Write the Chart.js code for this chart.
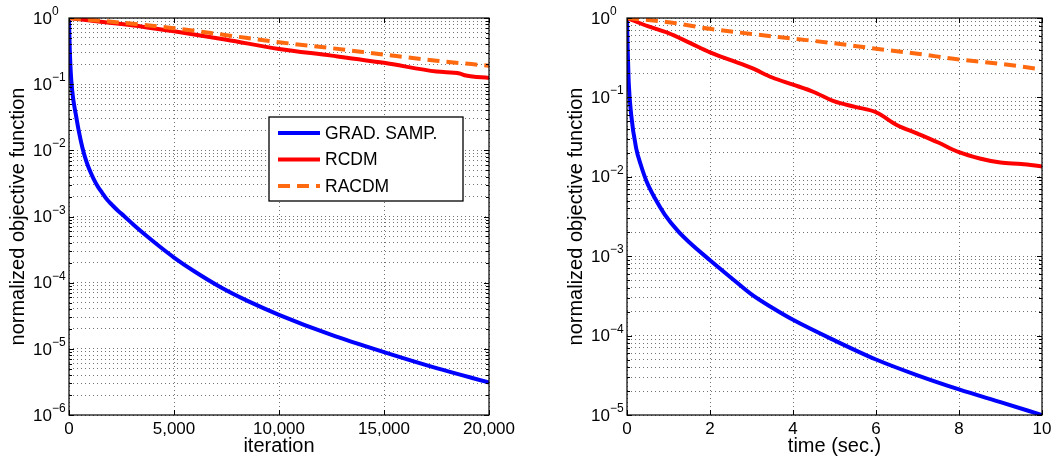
<!DOCTYPE html>
<html>
<head>
<meta charset="utf-8">
<title>normalized objective function</title>
<script src="https://cdn.jsdelivr.net/npm/chart.js@4.4.1/dist/chart.umd.min.js"></script>
<style>
  body { margin: 0; background: #fff; }
  #wrap { position: relative; width: 1057px; height: 458px; }
  canvas { position: absolute; top: 0; }
</style>
</head>
<body>
<div id="wrap">
  <canvas id="chart-iter" width="528" height="458" style="left:0"></canvas>
  <canvas id="chart-time" width="529" height="458" style="left:528px"></canvas>
</div>
<script>
// ---- DATA: left panel (x = iteration) ----
const iterGrad = [0, 15, 33, 63, 110, 190, 320, 460, 633, 762, 905, 1048, 1190, 1381, 1571, 1810, 2048, 2333, 2620, 3100, 3700, 4300, 5000, 6000, 7200, 8500, 10000, 12500, 15000, 17500, 20000];
const valGrad = [1, 0.6, 0.36, 0.204, 0.113, 0.063, 0.0355, 0.02, 0.0111, 0.0079, 0.0058, 0.0045, 0.0036, 0.0028, 0.0023, 0.0018, 0.0015, 0.00122, 0.00102, 7.36e-4, 5.06e-4, 3.55e-4, 2.4e-4, 1.46e-4, 8.6e-5, 5.3e-5, 3.27e-5, 1.62e-5, 8.9e-6, 5.1e-6, 3.1e-6];
const iterRcdm = [0, 1200, 2500, 3500, 5000, 7500, 10000, 12500, 15000, 17500, 18600, 18900, 20000];
const valRcdm = [1, 0.9, 0.81, 0.74, 0.63, 0.47, 0.34, 0.27, 0.21, 0.155, 0.145, 0.135, 0.124];
const iterRacdm = [0, 2500, 5000, 7500, 10000, 12500, 15000, 17500, 20000];
const valRacdm = [1, 0.85, 0.70, 0.55, 0.43, 0.35, 0.28, 0.226, 0.19];

// ---- DATA: right panel (x = time in sec.) ----
const timeGrad = [0, 0.015, 0.04, 0.1, 0.22, 0.33, 0.47, 0.67, 0.91, 1.23, 1.5, 2, 2.5, 3, 3.5, 4, 5, 6, 7, 8, 9, 10];
const valGradT = [1, 0.42, 0.16, 0.061, 0.023, 0.0143, 0.0088, 0.0054, 0.00335, 0.00207, 0.0015, 8.9e-4, 5.4e-4, 3.3e-4, 2.24e-4, 1.58e-4, 8.7e-5, 5.0e-5, 3.16e-5, 2.1e-5, 1.45e-5, 1e-5];
const timeRcdm = [0, 0.5, 1, 1.5, 2, 2.5, 3, 3.5, 4, 4.5, 5, 5.5, 6, 6.5, 7, 7.5, 8, 8.5, 9, 9.5, 10];
const valRcdmT = [1, 0.79, 0.645, 0.49, 0.37, 0.295, 0.235, 0.178, 0.145, 0.117, 0.089, 0.076, 0.065, 0.045, 0.035, 0.027, 0.0204, 0.017, 0.0151, 0.0145, 0.0135];
const timeRacdm = [0, 1, 2, 3, 4, 5, 6, 7, 8, 9, 10];
const valRacdmT = [1, 0.885, 0.73, 0.63, 0.55, 0.48, 0.41, 0.355, 0.30, 0.265, 0.225];

// ---- labels / ticks ----
const seriesLabels = ["GRAD. SAMP.", "RCDM", "RACDM"];
const xTicksIter = [0, 5000, 10000, 15000, 20000];
const xTicksTime = [0, 2, 4, 6, 8, 10];
const yDecadesIter = [1e-6, 1e-5, 1e-4, 1e-3, 1e-2, 1e-1, 1];
const yDecadesTime = [1e-5, 1e-4, 1e-3, 1e-2, 1e-1, 1];

// ---- style ----
const FONT = "'Liberation Sans', Arial, Helvetica, sans-serif";
const COLORS = ["#0000ff", "#ff0000", "#ff6a10"];
const GRID_COLOR = "rgba(0,0,0,0.55)";

function toPoints(xs, ys) {
    return xs.map((x, i) => ({ x: x, y: ys[i] }));
}

// decades + 2..9 minor grid values
function withMinors(decades) {
    const out = [];
    decades.forEach((d, i) => {
        out.push({ value: d, major: true });
        if (i < decades.length - 1) {
            for (let k = 2; k <= 9; k++) out.push({ value: k * d, major: false });
        }
    });
    return out;
}

function withCommas(v) {
    return String(v).replace(/\B(?=(\d{3})+(?!\d))/g, ",");
}

// box, inward ticks and 10^n labels, matlab look
const matlabAxes = {
    id: "matlabAxes",
    afterDraw(chart) {
        const { ctx, chartArea: a } = chart;
        const x = chart.scales.x, y = chart.scales.y;
        ctx.save();
        ctx.strokeStyle = "#000";
        ctx.lineWidth = 1.2;
        ctx.strokeRect(a.left, a.top, a.right - a.left, a.bottom - a.top);

        ctx.beginPath();
        x.ticks.forEach(t => {
            const px = Math.round(x.getPixelForValue(t.value)) + 0.5;
            ctx.moveTo(px, a.bottom); ctx.lineTo(px, a.bottom - 5);
            ctx.moveTo(px, a.top); ctx.lineTo(px, a.top + 5);
        });
        y.ticks.forEach(t => {
            const py = Math.round(y.getPixelForValue(t.value)) + 0.5;
            const len = t.major ? 5 : 3;
            ctx.moveTo(a.left, py); ctx.lineTo(a.left + len, py);
            ctx.moveTo(a.right, py); ctx.lineTo(a.right - len, py);
        });
        ctx.lineWidth = 1;
        ctx.stroke();

        ctx.fillStyle = "#000";
        y.ticks.filter(t => t.major).forEach(t => {
            const py = y.getPixelForValue(t.value);
            const n = Math.round(Math.log10(t.value));
            ctx.font = "17px " + FONT;
            ctx.textAlign = "right";
            ctx.textBaseline = "middle";
            ctx.fillText("10", a.left - 17, py + 1);
            ctx.font = "12px " + FONT;
            ctx.textAlign = "left";
            ctx.textBaseline = "alphabetic";
            ctx.fillText(n === 0 ? "0" : "\u2212" + Math.abs(n), a.left - 17, py - 3);
        });
        ctx.restore();
    }
};

// legend box inside the left panel
const boxLegend = {
    id: "boxLegend",
    afterDraw(chart) {
        const ctx = chart.ctx;
        const bx = 269, by = 117, bw = 194, bh = 84;
        const rows = [133, 159.5, 186];
        ctx.save();
        ctx.fillStyle = "#fff";
        ctx.fillRect(bx, by, bw, bh);
        ctx.strokeStyle = "#000";
        ctx.lineWidth = 1.3;
        ctx.strokeRect(bx, by, bw, bh);
        chart.data.datasets.forEach((ds, i) => {
            ctx.beginPath();
            ctx.strokeStyle = ds.borderColor;
            ctx.lineWidth = ds.borderWidth;
            ctx.setLineDash(ds.borderDash || []);
            ctx.moveTo(278, rows[i]);
            ctx.lineTo(320, rows[i]);
            ctx.stroke();
            ctx.setLineDash([]);
            ctx.fillStyle = "#000";
            ctx.font = "17.5px " + FONT;
            ctx.textAlign = "left";
            ctx.textBaseline = "middle";
            ctx.fillText(ds.label, 325, rows[i] + 1);
        });
        ctx.restore();
    }
};

function makePanel(canvasId, cfg) {
    return new Chart(document.getElementById(canvasId), {
        type: "line",
        data: {
            datasets: cfg.series.map((s, i) => ({
                label: seriesLabels[i],
                data: toPoints(s[0], s[1]),
                borderColor: COLORS[i],
                borderWidth: 4,
                borderDash: i === 2 ? [12, 7] : [],
                pointRadius: 0,
                cubicInterpolationMode: "monotone",
                order: 3 - i
            }))
        },
        options: {
            responsive: false,
            animation: false,
            layout: { padding: cfg.padding },
            plugins: { legend: { display: false }, tooltip: { enabled: false } },
            scales: {
                x: {
                    type: "linear",
                    min: cfg.xTicks[0],
                    max: cfg.xTicks[cfg.xTicks.length - 1],
                    afterBuildTicks: s => { s.ticks = cfg.xTicks.map(v => ({ value: v })); },
                    afterFit: s => { s.height = 43; },
                    ticks: {
                        color: "#000",
                        font: { family: FONT, size: 17 },
                        padding: 4,
                        maxRotation: 0,
                        autoSkip: false,
                        callback: cfg.xFormat
                    },
                    grid: { color: GRID_COLOR, drawTicks: false },
                    border: { display: false, dash: [1, 3] },
                    title: {
                        display: true,
                        text: cfg.xTitle,
                        color: "#000",
                        font: { family: FONT, size: 20 },
                        padding: 0
                    }
                },
                y: {
                    type: "logarithmic",
                    min: cfg.yTicks[0],
                    max: 1,
                    afterBuildTicks: s => { s.ticks = withMinors(cfg.yTicks); },
                    afterFit: s => { s.width = 69; },
                    ticks: { display: false },
                    grid: { color: GRID_COLOR, drawTicks: false },
                    border: { display: false, dash: [1, 3] },
                    title: {
                        display: true,
                        text: "normalized objective function",
                        color: "#000",
                        font: { family: FONT, size: 20 },
                        padding: { top: 6, bottom: 0 }
                    }
                }
            }
        },
        plugins: cfg.legend ? [matlabAxes, boxLegend] : [matlabAxes]
    });
}

makePanel("chart-iter", {
    series: [[iterGrad, valGrad], [iterRcdm, valRcdm], [iterRacdm, valRacdm]],
    xTicks: xTicksIter,
    yTicks: yDecadesIter,
    xTitle: "iteration",
    xFormat: withCommas,
    padding: { left: 0, top: 18, right: 39, bottom: 0 },
    legend: true
});

makePanel("chart-time", {
    series: [[timeGrad, valGradT], [timeRcdm, valRcdmT], [timeRacdm, valRacdmT]],
    xTicks: xTicksTime,
    yTicks: yDecadesTime,
    xTitle: "time (sec.)",
    xFormat: v => String(v),
    padding: { left: 30, top: 18, right: 15, bottom: 0 },
    legend: false
});
</script>
</body>
</html>
